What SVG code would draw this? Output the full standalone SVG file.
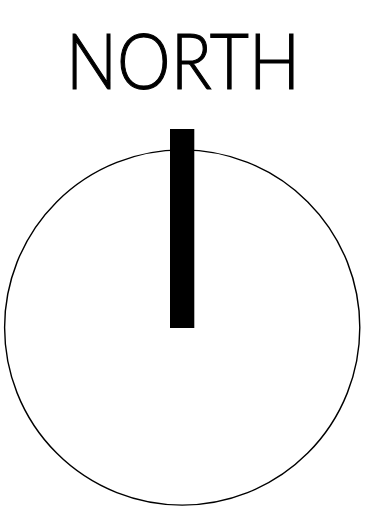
<svg xmlns="http://www.w3.org/2000/svg" width="383" height="519" viewBox="0 0 383 519">
<style>
.ring{fill:none;stroke:#000;stroke-width:1.4}
.lbl{font-family:Lato,"Open Sans","Liberation Sans",sans-serif;font-weight:300;font-size:77px;fill:#000;stroke:#000;stroke-width:1.1}
</style>
<rect width="383" height="519" fill="#fff"/>
<g id="dial"><circle class="ring" cx="182.2" cy="327.5" r="177.6"/></g>
<g id="needle"><rect x="170" y="129" width="24.3" height="199" fill="#000"/></g>
<g id="label"><text class="lbl" x="183" y="89" text-anchor="middle" textLength="234" lengthAdjust="spacingAndGlyphs">NORTH</text></g>
</svg>
